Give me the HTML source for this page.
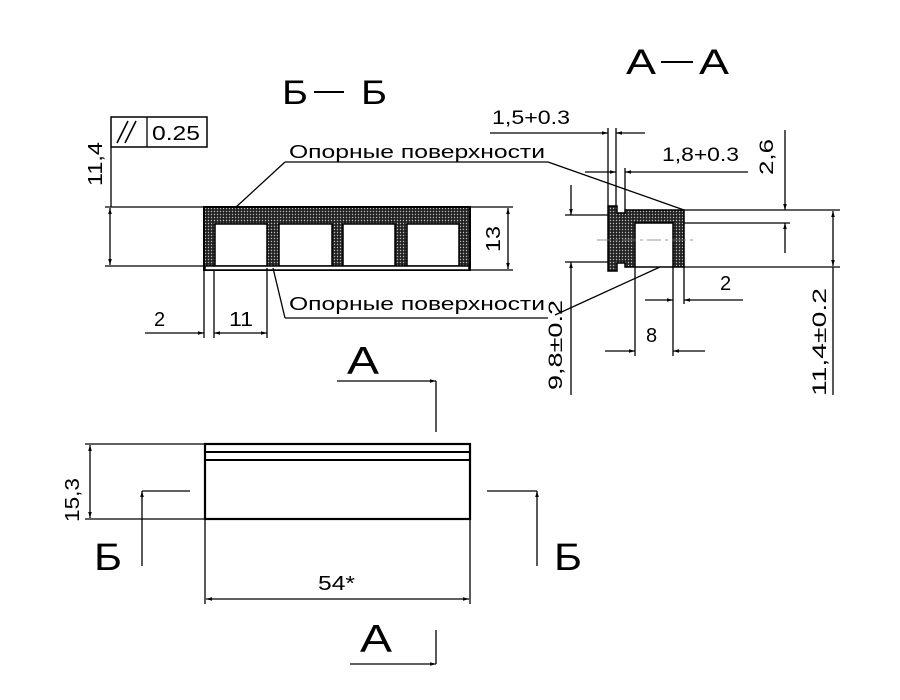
<!DOCTYPE html>
<html><head><meta charset="utf-8"><style>
html,body{margin:0;padding:0;background:#fff;}
svg{display:block;}
text{font-family:"Liberation Sans",sans-serif;fill:#000;}
</style></head><body>
<svg width="900" height="700" viewBox="0 0 900 700" xmlns="http://www.w3.org/2000/svg">
<defs>
<pattern id="dots" width="3" height="3" patternUnits="userSpaceOnUse">
<rect width="3" height="3" fill="#222"/><circle cx="1.5" cy="1.5" r="0.7" fill="#bbb"/>
</pattern>
<marker id="ar" viewBox="0 0 10 10" refX="10" refY="5" markerWidth="12" markerHeight="6" orient="auto-start-reverse" markerUnits="userSpaceOnUse">
<path d="M0,2 L10,5 L0,8 Z" fill="#000"/></marker>
</defs>
<text x="282" y="104" font-size="34" textLength="26" lengthAdjust="spacingAndGlyphs">Б</text>
<line x1="314" y1="92" x2="344" y2="92" stroke="#000" stroke-width="2"/>
<text x="361" y="104" font-size="34" textLength="26" lengthAdjust="spacingAndGlyphs">Б</text>
<text x="626" y="74" font-size="35" textLength="30" lengthAdjust="spacingAndGlyphs">А</text>
<line x1="661" y1="62" x2="693" y2="62" stroke="#000" stroke-width="2"/>
<text x="699" y="74" font-size="35" textLength="30" lengthAdjust="spacingAndGlyphs">А</text>

<!-- Б-Б section -->
<rect x="204" y="207" width="266" height="63" fill="url(#dots)" stroke="#000" stroke-width="2"/>
<g fill="#fff" stroke="#000" stroke-width="1.5">
<rect x="215" y="224" width="52" height="42"/>
<rect x="279" y="224" width="53" height="42"/>
<rect x="343" y="224" width="52" height="42"/>
<rect x="407" y="224" width="52" height="42"/>
<rect x="205" y="266" width="264" height="4"/>
</g>
<g stroke="#000" stroke-width="1.3" fill="none">
<rect x="111" y="117" width="96" height="30" stroke-width="1.5"/>
<line x1="147" y1="117" x2="147" y2="147"/>
<line x1="111" y1="147" x2="111" y2="207"/>
<line x1="105" y1="207" x2="204" y2="207"/>
<line x1="105" y1="266" x2="204" y2="266"/>
<line x1="110" y1="208" x2="110" y2="265" marker-start="url(#ar)" marker-end="url(#ar)"/>
<line x1="470" y1="207" x2="513" y2="207"/>
<line x1="470" y1="270" x2="513" y2="270"/>
<line x1="508" y1="208" x2="508" y2="269" marker-start="url(#ar)" marker-end="url(#ar)"/>
<line x1="235" y1="208" x2="285" y2="162"/>
<line x1="285" y1="162" x2="548" y2="162"/>
<line x1="273" y1="268" x2="285" y2="318"/>
<line x1="285" y1="318" x2="548" y2="318"/>
<line x1="204" y1="270" x2="204" y2="338"/>
<line x1="214" y1="270" x2="214" y2="338"/>
<line x1="267" y1="268" x2="267" y2="338"/>
<line x1="145" y1="333" x2="204" y2="333" marker-end="url(#ar)"/>
<line x1="214" y1="333" x2="267" y2="333" marker-start="url(#ar)" marker-end="url(#ar)"/>
</g>
<line x1="117" y1="143" x2="128" y2="121" stroke="#000" stroke-width="1.6"/>
<line x1="125" y1="143" x2="136" y2="121" stroke="#000" stroke-width="1.6"/>
<text x="152" y="140" font-size="20" textLength="48" lengthAdjust="spacingAndGlyphs">0.25</text>
<text transform="translate(102,186) rotate(-90)" font-size="20" textLength="44" lengthAdjust="spacingAndGlyphs">11,4</text>
<text transform="translate(500,252) rotate(-90)" font-size="20" textLength="26" lengthAdjust="spacingAndGlyphs">13</text>
<text x="289" y="158" font-size="18" textLength="256" lengthAdjust="spacingAndGlyphs">Опорные  поверхности</text>
<text x="289" y="310" font-size="18" textLength="256" lengthAdjust="spacingAndGlyphs">Опорные  поверхности</text>
<text x="154" y="326" font-size="20">2</text>
<text x="229" y="326" font-size="20" textLength="24" lengthAdjust="spacingAndGlyphs">11</text>

<!-- А-А section -->
<path d="M608,206 L617,206 L617,213 L625,213 L625,210 L684,210 L684,267 L673,267 L673,223 L635,223 L635,267 L625,267 L625,263 L617,263 L617,271 L608,271 Z" fill="url(#dots)" stroke="#000" stroke-width="1.5"/>
<line x1="635" y1="267" x2="673" y2="267" stroke="#000" stroke-width="1.5"/>
<g stroke="#000" stroke-width="1.3" fill="none">
<line x1="597" y1="240" x2="697" y2="240" stroke="#777" stroke-width="0.8" stroke-dasharray="14,4,3,4"/>
<line x1="608" y1="128" x2="608" y2="206"/>
<line x1="616" y1="128" x2="616" y2="206"/>
<line x1="625" y1="168" x2="625" y2="210"/>
<line x1="490" y1="133" x2="608" y2="133" marker-end="url(#ar)"/>
<line x1="645" y1="133" x2="616" y2="133" marker-end="url(#ar)"/>
<line x1="585" y1="172" x2="616" y2="172" marker-end="url(#ar)"/>
<line x1="748" y1="172" x2="625" y2="172" marker-end="url(#ar)"/>
<line x1="548" y1="162" x2="684" y2="210"/>
<line x1="660" y1="267" x2="555" y2="315"/>
<line x1="684" y1="210" x2="840" y2="210"/>
<line x1="684" y1="223" x2="790" y2="223"/>
<line x1="684" y1="267" x2="840" y2="267"/>
<line x1="785" y1="130" x2="785" y2="210" marker-end="url(#ar)"/>
<line x1="785" y1="253" x2="785" y2="223" marker-end="url(#ar)"/>
<line x1="833" y1="211" x2="833" y2="266" marker-start="url(#ar)" marker-end="url(#ar)"/>
<line x1="833" y1="267" x2="833" y2="395"/>
<line x1="565" y1="215" x2="608" y2="215"/>
<line x1="565" y1="262" x2="608" y2="262"/>
<line x1="571" y1="185" x2="571" y2="215" marker-end="url(#ar)"/>
<line x1="571" y1="395" x2="571" y2="262" marker-end="url(#ar)"/>
<line x1="684" y1="267" x2="684" y2="304"/>
<line x1="673" y1="267" x2="673" y2="356"/>
<line x1="635" y1="267" x2="635" y2="356"/>
<line x1="645" y1="300" x2="673" y2="300" marker-end="url(#ar)"/>
<line x1="743" y1="300" x2="684" y2="300" marker-end="url(#ar)"/>
<line x1="605" y1="351" x2="635" y2="351" marker-end="url(#ar)"/>
<line x1="705" y1="351" x2="673" y2="351" marker-end="url(#ar)"/>
</g>
<text x="492" y="124" font-size="19" textLength="78" lengthAdjust="spacingAndGlyphs">1,5+0.3</text>
<text x="662" y="161" font-size="19" textLength="77" lengthAdjust="spacingAndGlyphs">1,8+0.3</text>
<text transform="translate(773,175) rotate(-90)" font-size="19" textLength="36" lengthAdjust="spacingAndGlyphs">2,6</text>
<text x="720" y="290" font-size="20">2</text>
<text x="646" y="342" font-size="20">8</text>
<text transform="translate(562,390) rotate(-90)" font-size="19" textLength="90" lengthAdjust="spacingAndGlyphs">9,8±0.2</text>
<text transform="translate(826,396) rotate(-90)" font-size="19" textLength="108" lengthAdjust="spacingAndGlyphs">11,4±0.2</text>

<!-- Bottom view -->
<g stroke="#000" fill="none">
<rect x="205" y="444" width="265" height="75" stroke-width="2.2"/>
<line x1="205" y1="452" x2="470" y2="452" stroke-width="2"/>
<line x1="205" y1="460" x2="470" y2="460" stroke-width="2"/>
<g stroke-width="1.3">
<line x1="85" y1="444" x2="205" y2="444"/>
<line x1="85" y1="519" x2="205" y2="519"/>
<line x1="90" y1="445" x2="90" y2="518" marker-start="url(#ar)" marker-end="url(#ar)"/>
<line x1="190" y1="491" x2="142" y2="491"/>
<line x1="142" y1="566" x2="142" y2="491" marker-end="url(#ar)"/>
<line x1="487" y1="491" x2="537" y2="491"/>
<line x1="537" y1="566" x2="537" y2="491" marker-end="url(#ar)"/>
<line x1="205" y1="519" x2="205" y2="604"/>
<line x1="470" y1="519" x2="470" y2="604"/>
<line x1="206" y1="599" x2="469" y2="599" marker-start="url(#ar)" marker-end="url(#ar)"/>
<line x1="337" y1="381" x2="436" y2="381" marker-end="url(#ar)"/>
<line x1="436" y1="381" x2="436" y2="432"/>
<line x1="350" y1="664" x2="436" y2="664" marker-end="url(#ar)"/>
<line x1="436" y1="630" x2="436" y2="664"/>
</g>
</g>
<text transform="translate(79,522) rotate(-90)" font-size="20" textLength="44" lengthAdjust="spacingAndGlyphs">15,3</text>
<text x="94" y="570" font-size="38" textLength="28" lengthAdjust="spacingAndGlyphs">Б</text>
<text x="554" y="570" font-size="38" textLength="28" lengthAdjust="spacingAndGlyphs">Б</text>
<text x="318" y="590" font-size="20" textLength="37" lengthAdjust="spacingAndGlyphs">54*</text>
<text x="347" y="374" font-size="39" textLength="32" lengthAdjust="spacingAndGlyphs">А</text>
<text x="360" y="652" font-size="39" textLength="32" lengthAdjust="spacingAndGlyphs">А</text>
</svg>
</body></html>
